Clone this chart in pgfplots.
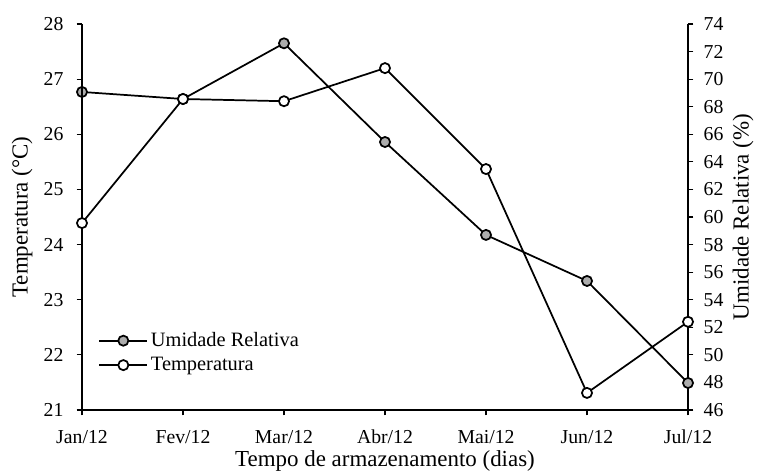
\documentclass[border=0pt]{standalone}
\usepackage{fontspec}
\setmainfont{Liberation Serif}
\usepackage{pgfplots}
\pgfplotsset{compat=1.18}
\begin{document}
\begin{tikzpicture}
\pgfplotsset{
  common/.style={
    scale only axis, width=454.5pt, height=289.5pt,
    xmin=0, xmax=6, clip=false,
    /pgf/number format/assume math mode=true,
    tick label style={font=\fontsize{14.8}{17}\selectfont},
    label style={font=\fontsize{17.2}{19}\selectfont},
    tick align=outside, major tick length=4pt,
    every tick/.style={black, line width=0.8pt},
    axis line style={line width=0.8pt},
    minor tick num=0,
  },
  ser/.style={black, line width=1.3pt, mark=*, mark size=3.8pt,
    mark options={line width=0.8pt, draw=black}},
}
\begin{axis}[common,
  axis x line=none, axis y line*=right,
  ymin=46, ymax=74, ytick={46,48,...,74},
  yticklabel style={xshift=4.2pt},
  ylabel={Umidade Relativa (\%)},
  ylabel style={at={(rel axis cs:1,0.5)}, anchor=center, rotate=0, yshift=-41.25pt},
]
\addplot[ser, mark options={fill=gray!65}] coordinates {
(0,69.07) (1,68.56) (2,72.6) (3,65.44) (4,58.7) (5,55.36) (6,47.96)};
\end{axis}
\begin{axis}[common,
  axis x line*=bottom, axis y line*=left,
  ymin=21, ymax=28, ytick={21,...,28},
  yticklabel style={xshift=-6.4pt},
  xtick={0,...,6},
  xticklabels={Jan/12,Fev/12,Mar/12,Abr/12,Mai/12,Jun/12,Jul/12},
  xticklabel style={anchor=base, inner sep=0pt, yshift=-21pt},
  xlabel={Tempo de armazenamento (dias)},
  xlabel style={at={(rel axis cs:0.5,0)}, anchor=base, inner sep=0pt, yshift=-42pt},
  ylabel={Temperatura (°C)},
  ylabel style={at={(rel axis cs:0,0.5)}, anchor=center, yshift=45pt},
  legend style={draw=none, fill=none, at={(rel axis cs:0.02,0.215)}, anchor=north west,
    font=\fontsize{15.3}{17}\selectfont, row sep=2.5pt},
  legend cell align=left,
  legend image code/.code={%
    \draw[mark=none, line width=1.3pt] (0cm,0cm) -- (1.27cm,0cm);
    \draw[only marks] plot coordinates {(0.635cm,0cm)};},
]
\addlegendimage{ser, mark options={fill=gray!65}}
\addlegendentry{Umidade Relativa}
\addplot[ser, mark options={fill=white}] coordinates {
(0,24.39) (1,26.64) (2,26.60) (3,27.20) (4,25.37) (5,21.31) (6,22.6)};
\addlegendentry{Temperatura}
\coordinate (bbsw) at (rel axis cs:-0.1353,-0.158);
\coordinate (bbne) at (rel axis cs:1.1155,1.0622);
\end{axis}
\pgfresetboundingbox
\path (bbsw) rectangle (bbne);
\end{tikzpicture}
\end{document}
